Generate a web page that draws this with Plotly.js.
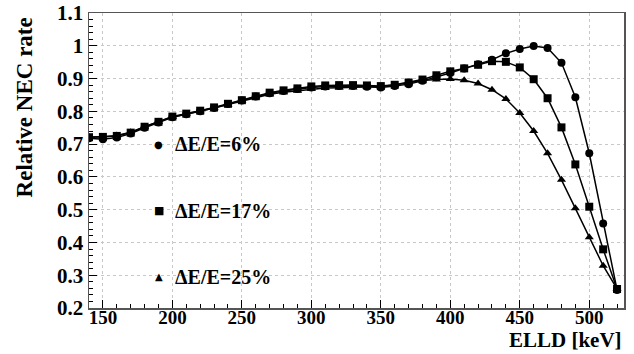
<!DOCTYPE html>
<html>
<head>
<meta charset="utf-8">
<script src="https://cdn.plot.ly/plotly-3.0.1.min.js"></script>
<style>html,body{margin:0;padding:0;background:#fff;}#chart{width:634px;height:354px;}</style>
</head>
<body>
<div id="chart"></div>
<script>
const elld = [140,150,160,170,180,190,200,210,220,230,240,250,260,270,280,290,300,310,320,330,340,350,360,370,380,390,400,410,420,430,440,450,460,470,480,490,500,510,520];
const nec6 = [0.718,0.715,0.720,0.732,0.750,0.766,0.782,0.791,0.800,0.810,0.822,0.833,0.845,0.855,0.862,0.868,0.873,0.876,0.877,0.877,0.875,0.873,0.877,0.883,0.893,0.904,0.917,0.931,0.944,0.957,0.977,0.990,0.999,0.993,0.948,0.843,0.672,0.458,0.255];
const nec17 = [0.721,0.722,0.725,0.735,0.753,0.768,0.784,0.793,0.802,0.812,0.823,0.834,0.846,0.857,0.864,0.870,0.876,0.879,0.880,0.880,0.879,0.877,0.881,0.888,0.897,0.910,0.922,0.931,0.942,0.953,0.951,0.934,0.898,0.840,0.751,0.638,0.509,0.379,0.258];
const nec25 = [0.722,0.722,0.726,0.736,0.753,0.768,0.783,0.792,0.800,0.810,0.821,0.832,0.843,0.852,0.858,0.863,0.868,0.871,0.872,0.873,0.874,0.876,0.880,0.887,0.894,0.897,0.899,0.895,0.885,0.866,0.838,0.795,0.740,0.672,0.591,0.504,0.416,0.329,0.258];
const seriesNames = ["ΔE/E=6%","ΔE/E=17%","ΔE/E=25%"];
const xTickVals = [150,200,250,300,350,400,450,500];
const yTickVals = [0.2,0.3,0.4,0.5,0.6,0.7,0.8,0.9,1.0,1.1];
const yTickText = ["0.2","0.3","0.4","0.5","0.6","0.7","0.8","0.9","1","1.1"];

const serif = "Liberation Serif";
function tr(y, sym, name){
  return {x: elld, y: y, mode: "lines+markers", name: name,
    line: {color: "#000", width: 1.5},
    marker: {symbol: sym, size: 8, color: "#000"}};
}
const data = [
  tr(nec6, "circle", seriesNames[0]),
  tr(nec17, "square", seriesNames[1]),
  tr(nec25, "triangle-up", seriesNames[2])
];
const glyphs = ["●","■","▲"];
const glyphSizes = [10, 11, 10];
const legY = [0.555, 0.330, 0.106];
const ann = [];
for (let i = 0; i < 3; i++) {
  ann.push({xref:"paper", yref:"paper", x:0.1308, y:legY[i], xanchor:"center", yanchor:"middle",
    text: glyphs[i], showarrow:false, font:{family:"DejaVu Sans", size:glyphSizes[i], color:"#000"}});
  ann.push({xref:"paper", yref:"paper", x:0.1564, y:legY[i], xanchor:"left", yanchor:"middle",
    text: "<b>"+seriesNames[i]+"</b>", showarrow:false, font:{family:serif, size:20, color:"#000"}});
}
ann.push({xref:"paper", yref:"paper", x:1.0, y:-0.156, xanchor:"right", yanchor:"bottom",
  text:"<b>ELLD [keV]</b>", showarrow:false, font:{family:serif, size:21, color:"#000"}});
ann.push({xref:"paper", yref:"paper", x:-0.1215, y:0.68, xanchor:"center", yanchor:"middle", textangle:-90,
  text:"<b>Relative NEC rate</b>", showarrow:false, font:{family:serif, size:23, color:"#000"}});

const layout = {
  width: 634, height: 354,
  margin: {l: 89, r: 10, t: 13, b: 46},
  paper_bgcolor: "#fff", plot_bgcolor: "#fff",
  showlegend: false,
  font: {family: serif, color: "#000"},
  xaxis: {range: [140, 525], tickvals: xTickVals, ticktext: xTickVals.map(v => "<b>"+v+"</b>"),
    ticks: "inside", ticklen: 8, tickcolor: "#000",
    minor: {dtick: 10, ticks: "inside", ticklen: 4, tickcolor: "#000", showgrid: false},
    showline: true, mirror: true, linecolor: "#555", linewidth: 1.5,
    showgrid: true, gridcolor: "#c8c8c8", griddash: "dot", gridwidth: 1,
    zeroline: false, ticklabelposition: "outside", ticklabelstandoff: -8,
    tickfont: {family: serif, size: 19, color: "#000"}},
  yaxis: {range: [0.2, 1.1], tickvals: yTickVals, ticktext: yTickText.map(v => "<b>"+v+"</b>"),
    ticks: "inside", ticklen: 8, tickcolor: "#000",
    minor: {dtick: 0.02, ticks: "inside", ticklen: 4, tickcolor: "#000", showgrid: false},
    showline: true, mirror: true, linecolor: "#555", linewidth: 1.5,
    showgrid: true, gridcolor: "#c8c8c8", griddash: "dot", gridwidth: 1,
    zeroline: false, tickfont: {family: serif, size: 21, color: "#000"}},
  annotations: ann
};
Plotly.newPlot("chart", data, layout, {displayModeBar: false, staticPlot: true});
</script>
</body>
</html>
